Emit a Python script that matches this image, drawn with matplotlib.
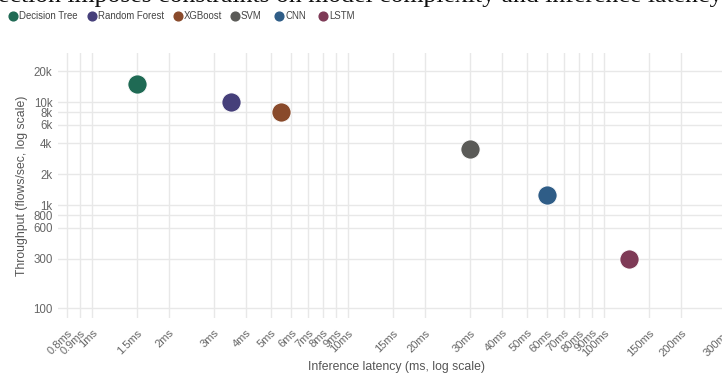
import numpy as np
import matplotlib
matplotlib.use("Agg")
import matplotlib.pyplot as plt
from matplotlib.lines import Line2D

# model latency / throughput
models = ['Decision Tree', 'Random Forest', 'XGBoost', 'SVM', 'CNN', 'LSTM']
latency_ms = [1.5, 3.5, 5.5, 30, 60, 125]
throughput = [15000, 10000, 8000, 3500, 1250, 300]
colors = ['#1f6a54', '#453f7a', '#894a2b', '#5a5a57', '#2f5d87', '#7e3a56']

x_ticks = [0.8, 0.9, 1, 1.5, 2, 3, 4, 5, 6, 7, 8, 9, 10, 15, 20, 30, 40, 50,
           60, 70, 80, 90, 100, 150, 200, 300]
y_ticks = [100, 300, 600, 800, 1000, 2000, 4000, 6000, 8000, 10000, 20000]
y_labels = ['100', '300', '600', '800', '1k', '2k', '4k', '6k', '8k', '10k', '20k']

plt.rcParams['font.family'] = ['Liberation Sans', 'DejaVu Sans']

W, H = 722, 375
fig = plt.figure(figsize=(W / 100, H / 100), dpi=100)

# plot area in pixels (right edge runs past the figure)
left, right, top, bottom = 58, 743, 53, 318
ax = fig.add_axes([left / W, 1 - bottom / H, (right - left) / W, (bottom - top) / H])

for m, x, y, c in zip(models, latency_ms, throughput, colors):
    ax.scatter(x, y, s=190, color=c, edgecolors='white', linewidths=0.6, zorder=3)

ax.set_xscale('log'); ax.set_yscale('log')
ax.set_xlim(0.736, 350); ax.set_ylim(80, 30000)
ax.minorticks_off()
ax.set_xticks(x_ticks)
ax.set_xticklabels([f'{v:g}ms' for v in x_ticks], rotation=45, ha='right', va='top',
                   rotation_mode='anchor', fontsize=8, color='#666666')
ax.set_yticks(y_ticks)
ax.set_yticklabels(y_labels, fontsize=8.3, color='#666666')
ax.tick_params(axis='both', length=0, pad=4)
ax.tick_params(axis='x', pad=7)
for s in ax.spines.values():
    s.set_visible(False)
ax.grid(True, color='#e8e8e8', linewidth=1)
ax.set_axisbelow(True)

fig.text(397 / W, 1 - 367 / H, 'Inference latency (ms, log scale)', ha='center', va='center',
         fontsize=8.8, color='#555555')
fig.text(22 / W, 1 - 186 / H, 'Throughput (flows/sec, log scale)', ha='center', va='center',
         rotation=90, fontsize=8.8, color='#555555')

# legend row, placed by hand (marker x in pixels)
legend_x = [13, 92, 178, 235, 279, 323]
ly = 1 - 16 / H
for lx, name, c in zip(legend_x, models, colors):
    fig.add_artist(Line2D([lx / W], [ly], marker='o', linestyle='', markersize=6.3,
                          color=c, transform=fig.transFigure))
    fig.text((lx + 6) / W, ly, name, ha='left', va='center', fontsize=6.9, color='#444444')

# surrounding page text, cut off at the top edge
fig.text(-2 / W, 1 - 2 / H, 'ection imposes constraints on model complexity and inference latency.',
         ha='left', va='baseline', fontsize=18.5, family='Liberation Serif', color='#111111')

fig.savefig('out.png', dpi=100)
